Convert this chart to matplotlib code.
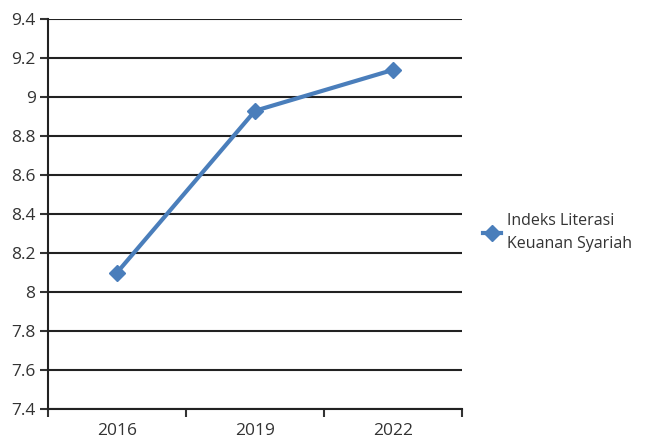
import matplotlib.pyplot as plt

years = ["2016", "2019", "2022"]
values = [8.10, 8.93, 9.14]
y_ticks = [7.4, 7.6, 7.8, 8.0, 8.2, 8.4, 8.6, 8.8, 9.0, 9.2, 9.4]
y_labels = ["7.4", "7.6", "7.8", "8", "8.2", "8.4", "8.6", "8.8", "9", "9.2", "9.4"]
series_name = "Indeks Literasi\nKeuanan Syariah"

plt.rcParams["font.family"] = ["Open Sans", "DejaVu Sans"]

fig = plt.figure(figsize=(6.47, 4.43), dpi=100)
ax = fig.add_axes([0.0742, 0.0767, 0.640, 0.880])

x = list(range(len(years)))
ax.plot(x, values, color="#4a7ebb", linewidth=3, marker="D", markersize=8,
        markerfacecolor="#4a7ebb", markeredgecolor="#4a7ebb", label=series_name,
        zorder=3)

ax.set_xlim(-0.5, len(years) - 0.5)
ax.set_ylim(7.4, 9.4)
ax.set_yticks(y_ticks)
ax.set_yticklabels(y_labels)
ax.set_xticks([i - 0.5 for i in range(len(years) + 1)])
ax.set_xticklabels([])
ax.set_xticks(x, minor=True)
ax.set_xticklabels(years, minor=True)
ax.tick_params(axis="x", which="minor", length=0, pad=10, labelsize=12.5,
               labelcolor="#333333")
ax.tick_params(axis="x", which="major", length=6, width=1.5, color="#333333")
ax.tick_params(axis="y", length=6, width=1.5, color="#333333", pad=3,
               labelsize=12.5, labelcolor="#333333")

ax.grid(axis="y", color="#222222", linewidth=1.5)
ax.set_axisbelow(True)
for s in ["top", "right"]:
    ax.spines[s].set_visible(False)
ax.spines["left"].set_linewidth(1.5)
ax.spines["left"].set_color("#222222")
ax.spines["bottom"].set_linewidth(1.5)
ax.spines["bottom"].set_color("#222222")

leg = fig.legend(loc="center left", bbox_to_anchor=(0.725, 0.475), frameon=False,
                 fontsize=11.5, handlelength=1.1, handletextpad=0.35,
                 labelcolor="#333333")
leg.get_texts()[0].set_linespacing(1.55)

fig.savefig("out.png", dpi=100)
